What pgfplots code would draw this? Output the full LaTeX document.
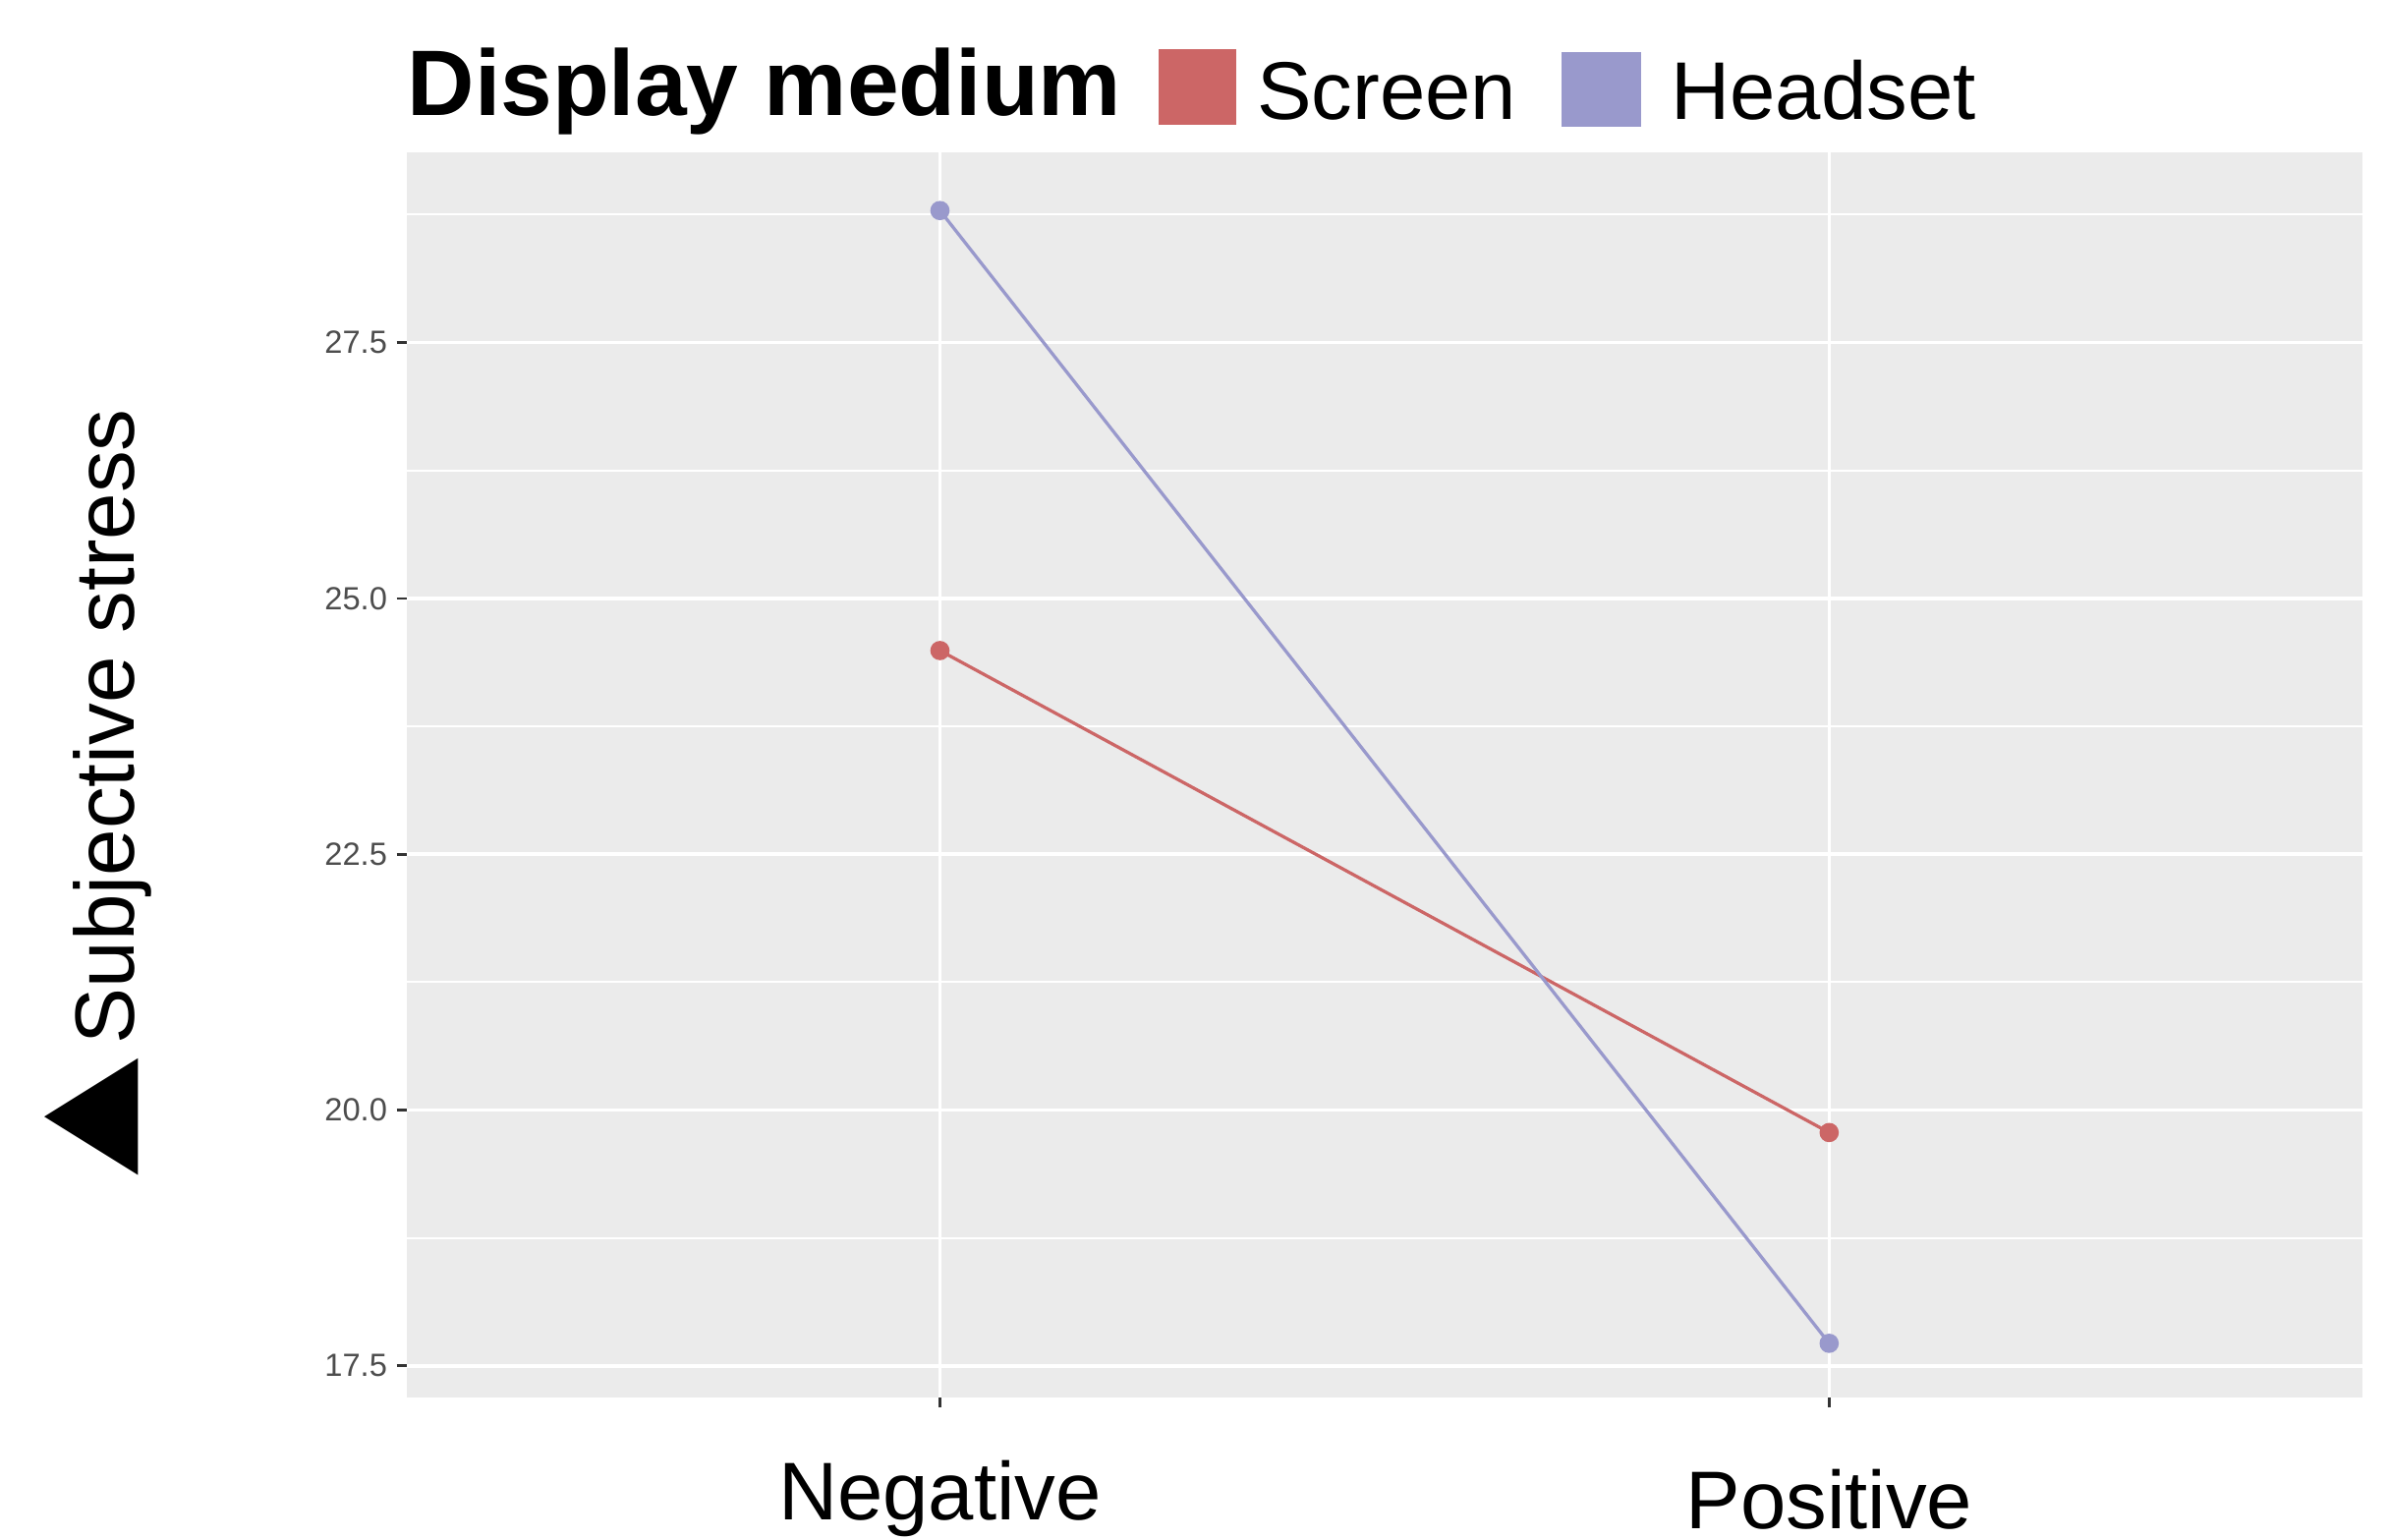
\documentclass[border=0pt]{standalone}
\usepackage{fontspec}
\setmainfont{Liberation Sans}
\newfontfamily\symfont{DejaVu Sans}
\usepackage{pgfplots}
\pgfplotsset{compat=1.18}
\definecolor{screen}{HTML}{CC6666}
\definecolor{headset}{HTML}{9999CC}
\definecolor{panelbg}{HTML}{EBEBEB}
\definecolor{ticklab}{HTML}{4D4D4D}
\definecolor{tickcol}{HTML}{333333}
\begin{document}
\begin{tikzpicture}
\begin{axis}[
  name=ax,
  scale only axis,
  width=12.85cm, height=8.18cm,
  xmin=0.4, xmax=2.6, ymin=17.19, ymax=29.36,
  axis background/.style={fill=panelbg},
  axis line style={draw=none},
  xtick={1,2},
  xticklabels={Negative,{\raisebox{-0.06cm}{Positive}}},
  ytick={17.5,20,22.5,25,27.5},
  minor ytick={18.75,21.25,23.75,26.25,28.75},
  grid=both,
  major grid style={draw=white, line width=0.65pt},
  minor grid style={draw=white, line width=0.4pt},
  tick align=outside,
  major tick length=0.065cm,
  minor tick length=0pt,
  tick style={draw=tickcol, line width=0.5pt},
  xtick pos=bottom, ytick pos=left,
  /pgf/number format/assume math mode=true,
  yticklabel={\pgfmathprintnumber[fixed,fixed zerofill,precision=1]{\tick}},
  yticklabel style={font=\fontsize{6}{7}\selectfont, text=ticklab, anchor=east, inner sep=0pt, xshift=-0.055cm},
  xticklabel style={font=\fontsize{15.3}{18}\selectfont, text=black, anchor=base, inner sep=0pt, yshift=-0.735cm},
]
\addplot[color=screen, line width=0.6pt, mark=*, mark size=1.5pt, mark options={fill=screen, draw=screen}] coordinates {(1,24.49) (2,19.78)};
\addplot[color=headset, line width=0.6pt, mark=*, mark size=1.5pt, mark options={fill=headset, draw=headset}] coordinates {(1,28.79) (2,17.72)};
\end{axis}
% y label
\node[rotate=90, anchor=base east, inner sep=0pt, font=\fontsize{15.7}{18}\selectfont]
  at ([shift={(-1.79cm,-1.68cm)}]ax.north west) {\raisebox{0.07cm}{\scalebox{1.1}[0.88]{\symfont\fontsize{26}{26}\selectfont ▲}}\hspace{0.09cm}Subjective stress};
% legend
\node[anchor=base west, inner sep=0pt, font=\fontsize{17.4}{20}\selectfont\bfseries]
  at ([shift={(0cm,0.24cm)}]ax.north west) {Display medium};
\fill[screen] ([shift={(4.94cm,0.18cm)}]ax.north west) rectangle ([shift={(5.45cm,0.68cm)}]ax.north west);
\node[anchor=base west, inner sep=0pt, font=\fontsize{15.3}{18}\selectfont]
  at ([shift={(5.58cm,0.215cm)}]ax.north west) {Screen};
\fill[headset] ([shift={(7.59cm,0.17cm)}]ax.north west) rectangle ([shift={(8.11cm,0.66cm)}]ax.north west);
\node[anchor=base west, inner sep=0pt, font=\fontsize{15.3}{18}\selectfont]
  at ([shift={(8.30cm,0.215cm)}]ax.north west) {Headset};
\pgfresetboundingbox
\path[use as bounding box] ([shift={(-2.67cm,-0.93cm)}]ax.south west) rectangle ([shift={(0.16cm,1.00cm)}]ax.north east);
\end{tikzpicture}
\end{document}
